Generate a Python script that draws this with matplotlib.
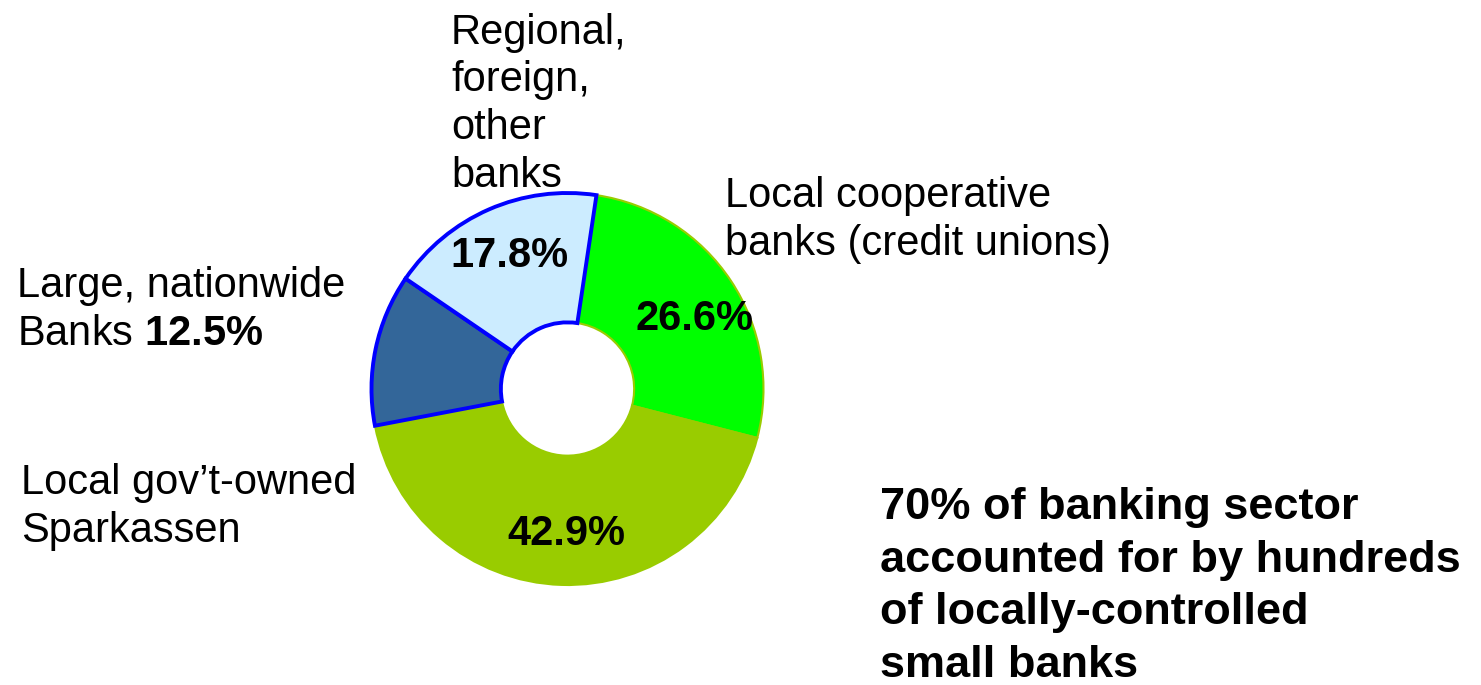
import numpy as np
import matplotlib.pyplot as plt

plt.rcParams['font.family'] = ['Liberation Sans', 'DejaVu Sans']
plt.rcParams['mathtext.fontset'] = 'custom'
plt.rcParams['mathtext.rm'] = 'Liberation Sans'
plt.rcParams['mathtext.bf'] = 'Liberation Sans:bold'

# slices, clockwise from just right of 12 o'clock
names = ['Local cooperative banks (credit unions)', "Local gov't-owned Sparkassen",
         'Large, nationwide Banks', 'Regional, foreign, other banks']
shares = [26.6, 42.9, 12.5, 17.8]
colors = ['#00FF00', '#99CC00', '#336699', '#CCECFF']
edges = ['#99CC00', '#99CC00', '#0000FF', '#0000FF']
show_inside = [True, True, False, True]

W, H = 1481, 685
fig = plt.figure(figsize=(W / 100, H / 100), dpi=100)

def fx(x):
    return x / W

def fy(y):
    return 1 - y / H

# donut axes: centre (567.5, 389) px, radius 196 px
cx, cy, r = 567.5, 389, 196
ax = fig.add_axes([fx(cx - r), fy(cy + r), 2 * r / W, 2 * r / H])
wedges, _ = ax.pie(shares, colors=colors, startangle=81.5, counterclock=False,
                   radius=1, wedgeprops=dict(width=0.66))
for w, ec in zip(wedges, edges):
    w.set_edgecolor(ec)
    w.set_linewidth(2.8 if ec == '#0000FF' else 1.5)
ax.set_xlim(-1, 1)
ax.set_ylim(-1, 1)
ax.set_axis_off()

# label nudges (degrees) so the percentages sit where the original put them
nudge = [-4.5, 1.5, 0, 0]
for w, val, show, dn in zip(wedges, shares, show_inside, nudge):
    if not show:
        continue
    mid = np.deg2rad((w.theta1 + w.theta2) / 2 + dn)
    ax.text(0.74 * np.cos(mid), 0.74 * np.sin(mid), f'{val}%', ha='center', va='center',
            fontsize=30, fontweight='bold')

fs = 30
ls = 1.25
# va='baseline' puts the last line's baseline at the given y
fig.text(fx(451), fy(187), 'Regional,\nforeign,\nother\nbanks', fontsize=fs,
         va='baseline', ha='left', linespacing=ls)
fig.text(fx(725), fy(255), 'Local cooperative\nbanks (credit unions)', fontsize=fs,
         va='baseline', ha='left', linespacing=ls)
fig.text(fx(17), fy(345), 'Large, nationwide\nBanks $\\mathbf{' + f'{shares[2]}' + '\\%}$',
         fontsize=fs, va='baseline', ha='left', linespacing=ls)
fig.text(fx(21), fy(542), "Local gov\u2019t-owned\nSparkassen", fontsize=fs,
         va='baseline', ha='left', linespacing=ls)
fig.text(fx(880), fy(677),
         '70% of banking sector\naccounted for by hundreds\nof locally-controlled\nsmall banks',
         fontsize=32.5, fontweight='bold', va='baseline', ha='left', linespacing=1.36)

fig.savefig('out.png', dpi=100)
